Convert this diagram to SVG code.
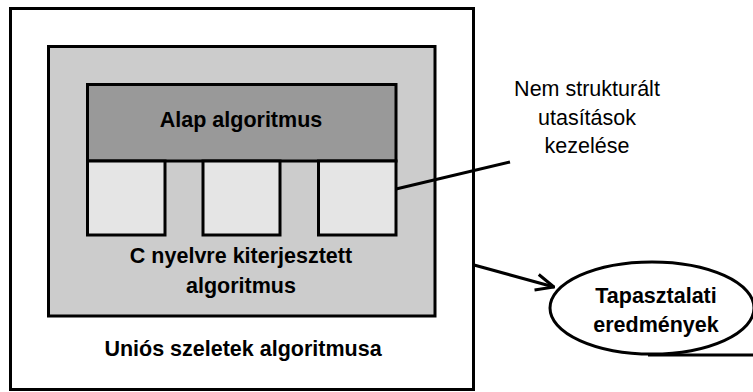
<svg xmlns="http://www.w3.org/2000/svg" width="753" height="392" viewBox="0 0 753 392">
<defs>
<style>
.bx{stroke:#000;stroke-width:3}
.tb{font-family:"Liberation Sans",Arial,sans-serif;font-weight:bold;font-size:21.5px;fill:#000;text-anchor:middle}
.tn{font-family:"Liberation Sans",Arial,sans-serif;font-size:21.5px;fill:#000;text-anchor:middle}
.cn{fill:none;stroke:#000;stroke-width:3}
</style>
<marker id="ah" viewBox="0 0 20 20" refX="19" refY="10" markerWidth="20" markerHeight="20" markerUnits="userSpaceOnUse" orient="auto">
<path d="M1,2 L19,10 L1,18" fill="none" stroke="#000" stroke-width="3"/>
</marker>
</defs>
<rect width="753" height="392" fill="#fff"/>
<g id="unios">
<rect class="bx" x="10.5" y="8.5" width="463" height="381" fill="#fff"/>
<text class="tb" x="243" y="356">Uniós szeletek algoritmusa</text>
</g>
<g id="c-nyelv">
<rect class="bx" x="48.5" y="46.5" width="386.5" height="269.5" fill="#ccc"/>
<text class="tb" x="241" y="263">C nyelvre kiterjesztett</text>
<text class="tb" x="241" y="293">algoritmus</text>
</g>
<g id="alap">
<rect class="bx" x="87.5" y="84.5" width="308.5" height="76.5" fill="#999"/>
<text class="tb" x="241" y="127">Alap algoritmus</text>
</g>
<g id="box1"><rect class="bx" x="87.5" y="161" width="77.5" height="74" fill="#e5e5e5"/></g>
<g id="box2"><rect class="bx" x="203" y="161" width="77" height="74" fill="#e5e5e5"/></g>
<g id="box3"><rect class="bx" x="318.5" y="161" width="77.5" height="74" fill="#e5e5e5"/></g>
<g id="nem-strukturalt">
<text class="tn" x="587" y="96">Nem strukturált</text>
<text class="tn" x="587" y="125">utasítások</text>
<text class="tn" x="587" y="153">kezelése</text>
</g>
<g id="tapasztalati">
<ellipse class="bx" cx="652" cy="308" rx="102" ry="46" fill="#fff"/>
<text class="tb" x="656" y="303">Tapasztalati</text>
<text class="tb" x="656" y="332">eredmények</text>
</g>
<g id="connectors">
<path class="cn" d="M396,189 L510,162"/>
<path class="cn" d="M474,265 L554,287" marker-end="url(#ah)"/>
<path class="cn" d="M648,355 L753,355"/>
</g>
</svg>
